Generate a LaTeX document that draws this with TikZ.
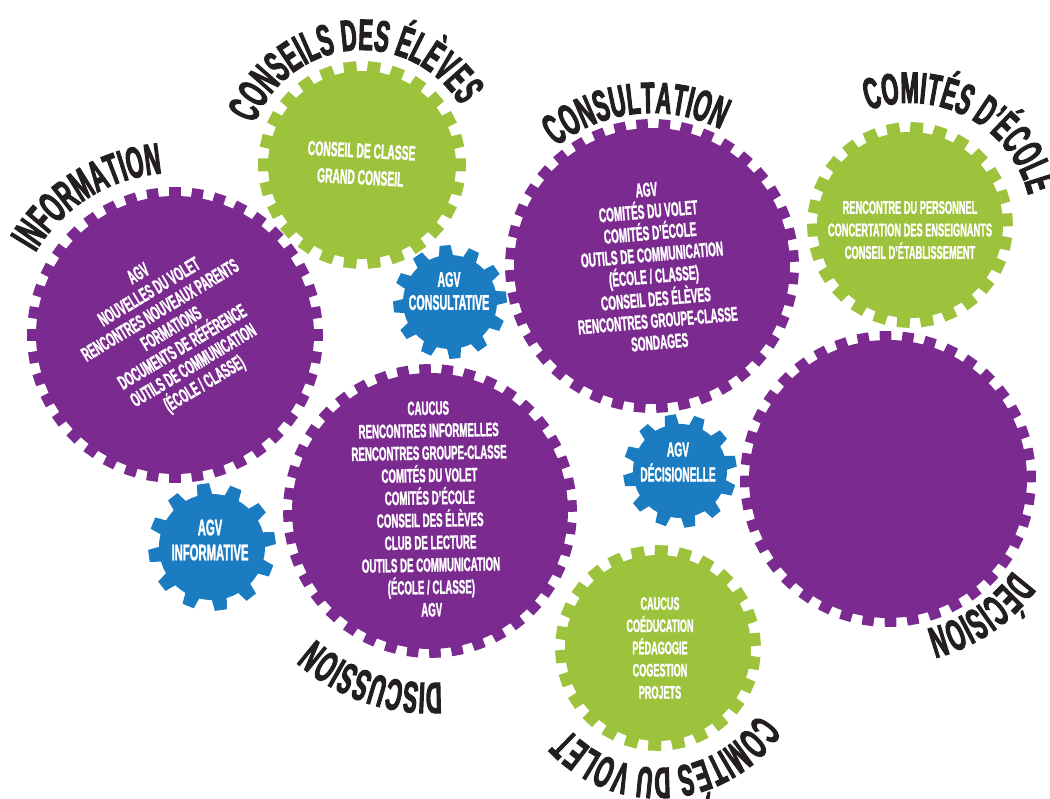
\documentclass[tikz,border=0pt]{standalone}
\usepackage{fontspec}
\newfontfamily\gf[FakeStretch=0.5,FakeBold=1.2]{Liberation Sans}
\newfontfamily\tf[FakeStretch=0.5,FakeBold=2.2]{Liberation Sans}
\usetikzlibrary{decorations.text}
\definecolor{gpurple}{HTML}{7B2B8F}
\definecolor{ggreen}{HTML}{9DC23C}
\definecolor{gblue}{HTML}{1B7CC1}
\definecolor{ttl}{HTML}{231F20}
% color, cx, cy, teeth, r inner, r outer, half width outer, half width inner, offset
\newcommand\gear[9]{%
  \fill[#1, shift={(#2pt,#3pt)}] ({#9-asin(#8/#5)}:#5pt)
  \foreach \k [evaluate=\k as \a using (\k-1)*360/#4+#9, evaluate=\k as \b using \k*360/#4+#9] in {1,...,#4}{
    -- ({\a-asin(#8/#5)}:#5pt) -- ({\a-asin(#7/#6)}:#6pt) -- ({\a+asin(#7/#6)}:#6pt) -- ({\a+asin(#8/#5)}:#5pt)
    arc[start angle={\a+asin(#8/#5)}, end angle={\b-asin(#8/#5)}, radius=#5pt]
  } -- cycle;
}
% cx, cy, baseline radius, centre angle, text
\newcommand\arctitle[5]{%
  \path[shift={(#1pt,#2pt)}, decorate, decoration={text along path, text align=center, text color=ttl,
    text={|\tf\bfseries\fontsize{44}{44}\selectfont|#5}}]
    ({#4+85}:#3pt) arc[start angle={#4+85}, end angle={#4-85}, radius=#3pt];
}
\tikzset{
  body/.style={text=white, align=center, inner sep=0pt},
}
\begin{document}
\begin{tikzpicture}[x=1pt,y=1pt]
\useasboundingbox (0,0) rectangle (1050,799);
% gears
\gear{gpurple}{175}{464}{40}{139}{148}{5.8}{5.8}{0}
\gear{ggreen}{362}{634}{26}{94}{104}{6.5}{6.5}{0}
\gear{gpurple}{652}{533}{40}{138}{147}{5.8}{5.8}{4}
\gear{ggreen}{910}{574}{26}{93}{103}{6.5}{6.5}{3}
\gear{gblue}{450}{497}{12}{47}{57}{5.5}{7}{5}
\gear{gpurple}{430}{288}{40}{138}{147}{5.8}{5.8}{2}
\gear{gpurple}{888}{320}{40}{139}{148}{5.8}{5.8}{1}
\gear{gblue}{680}{328}{12}{47}{57}{5.5}{7}{10}
\gear{gblue}{212}{252}{12}{53}{64}{6}{7.5}{8}
\gear{ggreen}{658}{151}{26}{93}{103}{6.5}{6.5}{5}
% titles
\arctitle{175}{464}{162}{122}{INFORMATION}
\arctitle{362}{634}{115}{95}{CONSEILS DES ÉLÈVES}
\arctitle{652}{533}{153}{96}{CONSULTATION}
\arctitle{910}{574}{122}{62}{COMITÉS D’ÉCOLE}
\arctitle{888}{320}{155}{-56}{DÉCISION}
\arctitle{430}{288}{172}{-109}{DISCUSSION}
\arctitle{658}{151}{120}{-85.5}{COMITÉS DU VOLET}
% texts
\node[body, rotate=31, font=\gf\bfseries\fontsize{20}{21.4}\selectfont] (info) at (172,469)
  {AGV\\NOUVELLES DU VOLET\\RENCONTRES NOUVEAUX PARENTS\\FORMATIONS\\DOCUMENTS DE RÉFÉRENCE\\OUTILS DE COMMUNICATION\\(ÉCOLE / CLASSE)};
\node[body, rotate=5, font=\gf\bfseries\fontsize{20}{21.7}\selectfont] (consult) at (653,533)
  {AGV\\COMITÉS DU VOLET\\COMITÉS D’ÉCOLE\\OUTILS DE COMMUNICATION\\(ÉCOLE / CLASSE)\\CONSEIL DES ÉLÈVES\\RENCONTRES GROUPE-CLASSE\\SONDAGES};
\node[body, rotate=1, font=\gf\bfseries\fontsize{19.4}{22.4}\selectfont] (disc) at (430,290)
  {CAUCUS\\RENCONTRES INFORMELLES\\RENCONTRES GROUPE-CLASSE\\COMITÉS DU VOLET\\COMITÉS D’ÉCOLE\\CONSEIL DES ÉLÈVES\\CLUB DE LECTURE\\OUTILS DE COMMUNICATION\\(ÉCOLE / CLASSE)\\AGV};
\node[body, rotate=-3, font=\gf\bfseries\fontsize{20.6}{26.7}\selectfont] (conseils) at (361,635)
  {CONSEIL DE CLASSE\\GRAND CONSEIL};
\node[body, font=\gf\bfseries\fontsize{18.5}{22.5}\selectfont] (ecole) at (910,569)
  {RENCONTRE DU PERSONNEL\\CONCERTATION DES ENSEIGNANTS\\CONSEIL D’ÉTABLISSEMENT};
\node[body, font=\gf\bfseries\fontsize{18.2}{22.2}\selectfont] (volet) at (660,151)
  {CAUCUS\\COÉDUCATION\\PÉDAGOGIE\\COGESTION\\PROJETS};
\node[body, font=\gf\bfseries\fontsize{21.3}{23}\selectfont] (agvc) at (449,508)
  {AGV\\CONSULTATIVE};
\node[body, font=\gf\bfseries\fontsize{20.4}{25}\selectfont] (agvd) at (678,337)
  {AGV\\DÉCISIONELLE};
\node[body, font=\gf\bfseries\fontsize{22.6}{25}\selectfont] (agvi) at (210,259)
  {AGV\\INFORMATIVE};
\end{tikzpicture}
\end{document}
